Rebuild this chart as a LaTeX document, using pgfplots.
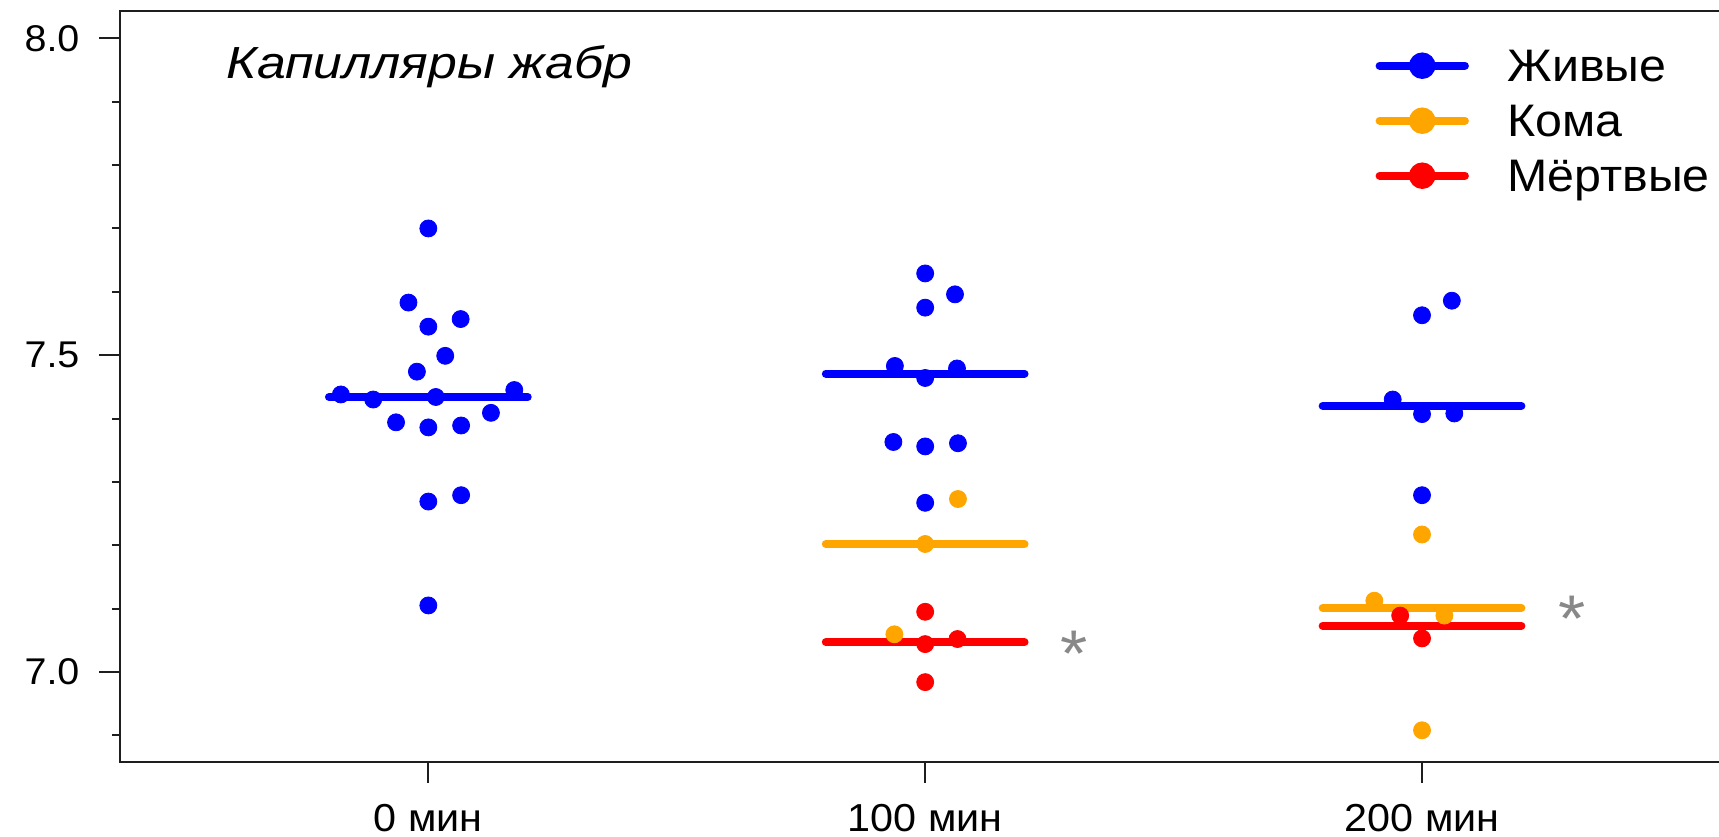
\documentclass[border=0pt]{standalone}
\usepackage{pgfplots}
\pgfplotsset{compat=1.18}
\usepackage{fontspec}
\setmainfont{Liberation Sans}[FakeStretch=1.06]
\newfontfamily\titlefont[FakeStretch=1.15]{Liberation Sans}
\definecolor{cblue}{RGB}{0,0,255}
\definecolor{corange}{RGB}{255,165,0}
\definecolor{cred}{RGB}{255,0,0}
\definecolor{cstar}{RGB}{136,136,136}
\definecolor{caxis}{RGB}{30,30,30}

\pgfplotstableread{
x y
0 7.700
-0.040 7.583
0.065 7.557
0 7.545
0.034 7.499
-0.023 7.474
-0.176 7.438
-0.111 7.430
0.015 7.434
0.173 7.445
-0.065 7.394
0 7.386
0.066 7.389
0.126 7.409
0 7.269
0.066 7.279
0 7.105
1 7.629
1.060 7.596
1 7.575
0.939 7.483
1 7.464
1.064 7.479
0.936 7.363
1 7.356
1.066 7.361
1 7.267
2.060 7.586
2 7.563
1.941 7.430
2 7.407
2.065 7.408
2 7.279
}\alive
\pgfplotstableread{
x y
1.066 7.273
1 7.202
0.938 7.0595
2 7.217
1.904 7.1125
2.045 7.089
2 6.908
}\coma
\pgfplotstableread{
x y
1 7.095
1 7.044
1.065 7.052
1 6.984
1.956 7.089
2 7.053
}\dead

\begin{document}
\begin{tikzpicture}
\begin{axis}[
  scale only axis,
  width=802.4pt, height=375.35pt,
  xmin=-0.62, xmax=2.61,
  ymin=6.8584, ymax=8.0432,
  tick align=outside,
  tick pos=left,
  xtick={0,1,2},
  xticklabels={0 мин,100 мин,200 мин},
  ytick={7,7.5,8},
  yticklabels={7.0,7.5,8.0},
  minor ytick={6.9,7.1,7.2,7.3,7.4,7.6,7.7,7.8,7.9},
  major tick length=10.5pt,
  minor tick length=4pt,
  tick style={caxis, line width=1pt},
  axis line style={caxis, line width=1pt},
  yticklabel style={font=\fontsize{18.6pt}{20pt}\selectfont, inner sep=0pt, xshift=-9.75pt},
  xticklabel style={font=\fontsize{19.5pt}{22pt}\selectfont, anchor=base, inner sep=0pt, yshift=-24.4pt},
  legend style={draw=none, fill=none, inner sep=0pt,
    at={(axis description cs:0,1)}, anchor=north west,
    xshift=627.45pt, yshift=-13.5pt,
    font=\fontsize{22.8pt}{26pt}\selectfont,
    row sep=0.2pt, column sep=19.25pt,
    nodes={inner sep=0pt, text height=21.8pt, text depth=5.5pt}},
  legend cell align=left,
  legend image code/.code={
    \draw[line width=4pt, line cap=round] (0pt,0pt) -- (42.65pt,0pt);
    \fill (21.33pt,0pt) circle (4.6pt);
  },
]
\addplot[only marks, mark=*, mark size=4.25pt, color=cblue, mark options={draw=none, fill=cblue}, forget plot] table {\alive};
\addplot[only marks, mark=*, mark size=4.25pt, color=corange, mark options={draw=none, fill=corange}, forget plot] table {\coma};
\addplot[only marks, mark=*, mark size=4.25pt, color=cred, mark options={draw=none, fill=cred}, forget plot] table {\dead};

\addplot[color=cblue, line width=4pt, line cap=round, no marks, forget plot] coordinates {(-0.2,7.434) (0.2,7.434)};
\addplot[color=cblue, line width=4pt, line cap=round, no marks] coordinates {(0.8,7.471) (1.2,7.471)};
\addlegendentry{Живые}
\addplot[color=cblue, line width=4pt, line cap=round, no marks, forget plot] coordinates {(1.8,7.420) (2.2,7.420)};

\addplot[color=corange, line width=4pt, line cap=round, no marks] coordinates {(0.8,7.202) (1.2,7.202)};
\addlegendentry{Кома}
\addplot[color=corange, line width=4pt, line cap=round, no marks, forget plot] coordinates {(1.8,7.101) (2.2,7.101)};

\addplot[color=cred, line width=4pt, line cap=round, no marks] coordinates {(0.8,7.047) (1.2,7.047)};
\addlegendentry{Мёртвые}
\addplot[color=cred, line width=4pt, line cap=round, no marks, forget plot] coordinates {(1.8,7.073) (2.2,7.073)};

\addplot[only marks, color=cstar, mark=text, text mark={*}, text mark as node=true,
  text mark style={font=\fontsize{33pt}{33pt}\selectfont, text=cstar, yshift=-5pt}, forget plot]
  coordinates {(1.30,7.044) (2.303,7.100)};

\node[anchor=base west, inner sep=0pt, font=\titlefont\itshape\fontsize{22.5pt}{24pt}\selectfont] at (axis cs:-0.407,7.937) {Капилляры жабр};
\end{axis}
\pgfresetboundingbox
\path[use as bounding box] ([xshift=-60.15pt,yshift=-37.15pt]current axis.south west) rectangle ([xshift=799.35pt,yshift=5.5pt]current axis.north west);
\end{tikzpicture}
\end{document}
